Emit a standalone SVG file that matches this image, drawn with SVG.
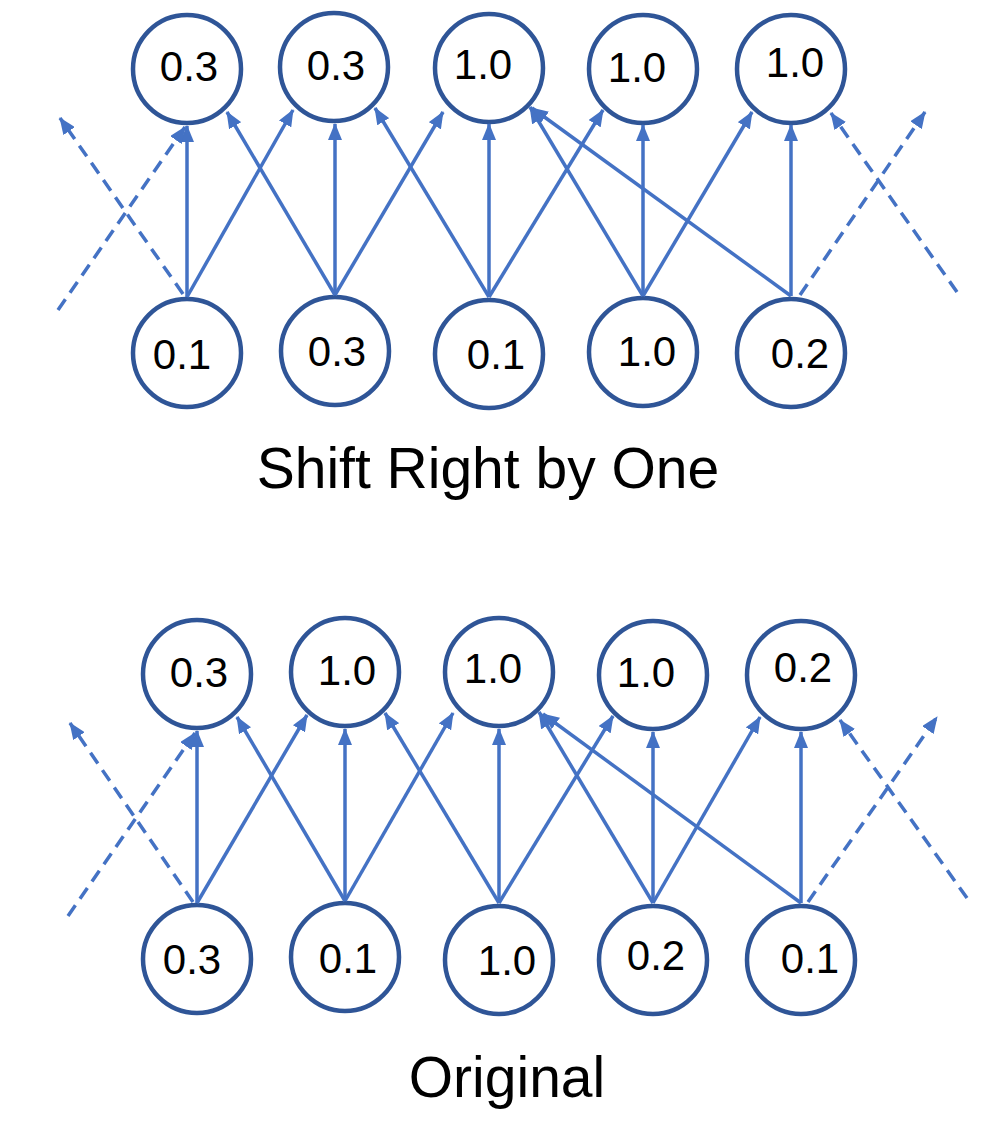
<svg xmlns="http://www.w3.org/2000/svg" width="998" height="1132" viewBox="0 0 998 1132">
<style>
.node circle{fill:#fff;stroke:#2F5597;stroke-width:4.5}
.node text{font-family:"Liberation Sans",Arial,sans-serif;font-size:42px;fill:#000;text-anchor:middle}
.title{font-family:"Liberation Sans",Arial,sans-serif;font-size:57px;fill:#000;text-anchor:middle}
.edge{stroke:#4472C4;stroke-width:3.5;fill:none;marker-end:url(#arr)}
.dash{stroke-dasharray:13 8}
</style>
<defs>
<marker id="arr" markerUnits="userSpaceOnUse" markerWidth="17" markerHeight="14" viewBox="0 0 17 14" refX="16" refY="7" orient="auto">
<path d="M0,0 L17,7 L0,14 z" fill="#4472C4"/>
</marker>
</defs>
<rect width="998" height="1132" fill="#fff"/>

<!-- Upper diagram: Shift Right by One -->
<g id="u-top1" class="node"><circle cx="187" cy="69" r="54"/><text x="189" y="81">0.3</text></g>
<g id="u-top2" class="node"><circle cx="334" cy="67" r="54"/><text x="336" y="80">0.3</text></g>
<g id="u-top3" class="node"><circle cx="489" cy="68" r="54"/><text x="483" y="79">1.0</text></g>
<g id="u-top4" class="node"><circle cx="643" cy="69" r="54"/><text x="637" y="82">1.0</text></g>
<g id="u-top5" class="node"><circle cx="791" cy="69" r="54"/><text x="795" y="77">1.0</text></g>
<g id="u-bot1" class="node"><circle cx="187" cy="353" r="54"/><text x="182" y="369">0.1</text></g>
<g id="u-bot2" class="node"><circle cx="335" cy="351" r="54"/><text x="337" y="366">0.3</text></g>
<g id="u-bot3" class="node"><circle cx="489" cy="354" r="54"/><text x="496" y="369">0.1</text></g>
<g id="u-bot4" class="node"><circle cx="643" cy="352" r="54"/><text x="647" y="366">1.0</text></g>
<g id="u-bot5" class="node"><circle cx="791" cy="353" r="54"/><text x="800" y="368">0.2</text></g>

<g id="u-connectors">
<line class="edge" x1="187" y1="297" x2="187" y2="126"/>
<line class="edge" x1="187" y1="297" x2="293" y2="110"/>
<line class="edge dash" x1="183" y1="294" x2="60" y2="118"/>
<line class="edge dash" x1="58" y1="310" x2="185" y2="127"/>
<line class="edge" x1="335" y1="295" x2="227" y2="112"/>
<line class="edge" x1="335" y1="295" x2="335" y2="124"/>
<line class="edge" x1="335" y1="295" x2="443" y2="112"/>
<line class="edge" x1="489" y1="297" x2="375" y2="108"/>
<line class="edge" x1="489" y1="297" x2="489" y2="124"/>
<line class="edge" x1="489" y1="297" x2="603" y2="110"/>
<line class="edge" x1="643" y1="296" x2="530" y2="107"/>
<line class="edge" x1="643" y1="296" x2="643" y2="125"/>
<line class="edge" x1="643" y1="296" x2="752" y2="112"/>
<line class="edge" x1="791" y1="296" x2="532" y2="108"/>
<line class="edge" x1="791" y1="296" x2="791" y2="125"/>
<line class="edge dash" x1="800" y1="295" x2="925" y2="112"/>
<line class="edge dash" x1="957" y1="292" x2="831" y2="113"/>
</g>

<text id="label-shift" class="title" x="488" y="488">Shift Right by One</text>

<!-- Lower diagram: Original -->
<g id="l-top1" class="node"><circle cx="197" cy="674" r="54"/><text x="199" y="687">0.3</text></g>
<g id="l-top2" class="node"><circle cx="345" cy="672" r="54"/><text x="347" y="685">1.0</text></g>
<g id="l-top3" class="node"><circle cx="499" cy="672" r="54"/><text x="493" y="683">1.0</text></g>
<g id="l-top4" class="node"><circle cx="653" cy="675" r="54"/><text x="646" y="687">1.0</text></g>
<g id="l-top5" class="node"><circle cx="801" cy="675" r="54"/><text x="803" y="682">0.2</text></g>
<g id="l-bot1" class="node"><circle cx="197" cy="959" r="54"/><text x="192" y="974">0.3</text></g>
<g id="l-bot2" class="node"><circle cx="345" cy="957" r="54"/><text x="348" y="973">0.1</text></g>
<g id="l-bot3" class="node"><circle cx="499" cy="960" r="54"/><text x="507" y="975">1.0</text></g>
<g id="l-bot4" class="node"><circle cx="653" cy="960" r="54"/><text x="656" y="970">0.2</text></g>
<g id="l-bot5" class="node"><circle cx="801" cy="960" r="54"/><text x="810" y="973">0.1</text></g>

<g id="l-connectors">
<line class="edge" x1="197" y1="903" x2="197" y2="731"/>
<line class="edge" x1="197" y1="903" x2="307" y2="715"/>
<line class="edge dash" x1="193" y1="902" x2="70" y2="723"/>
<line class="edge dash" x1="68" y1="916" x2="195" y2="733"/>
<line class="edge" x1="345" y1="901" x2="237" y2="717"/>
<line class="edge" x1="345" y1="901" x2="345" y2="729"/>
<line class="edge" x1="345" y1="901" x2="453" y2="713"/>
<line class="edge" x1="499" y1="903" x2="385" y2="713"/>
<line class="edge" x1="499" y1="903" x2="499" y2="729"/>
<line class="edge" x1="499" y1="903" x2="613" y2="716"/>
<line class="edge" x1="653" y1="903" x2="539" y2="712"/>
<line class="edge" x1="653" y1="903" x2="653" y2="732"/>
<line class="edge" x1="653" y1="903" x2="760" y2="717"/>
<line class="edge" x1="801" y1="903" x2="543" y2="714"/>
<line class="edge" x1="801" y1="903" x2="801" y2="732"/>
<line class="edge dash" x1="808" y1="902" x2="937" y2="717"/>
<line class="edge dash" x1="967" y1="898" x2="840" y2="720"/>
</g>

<text id="label-original" class="title" x="507" y="1097">Original</text>
</svg>
